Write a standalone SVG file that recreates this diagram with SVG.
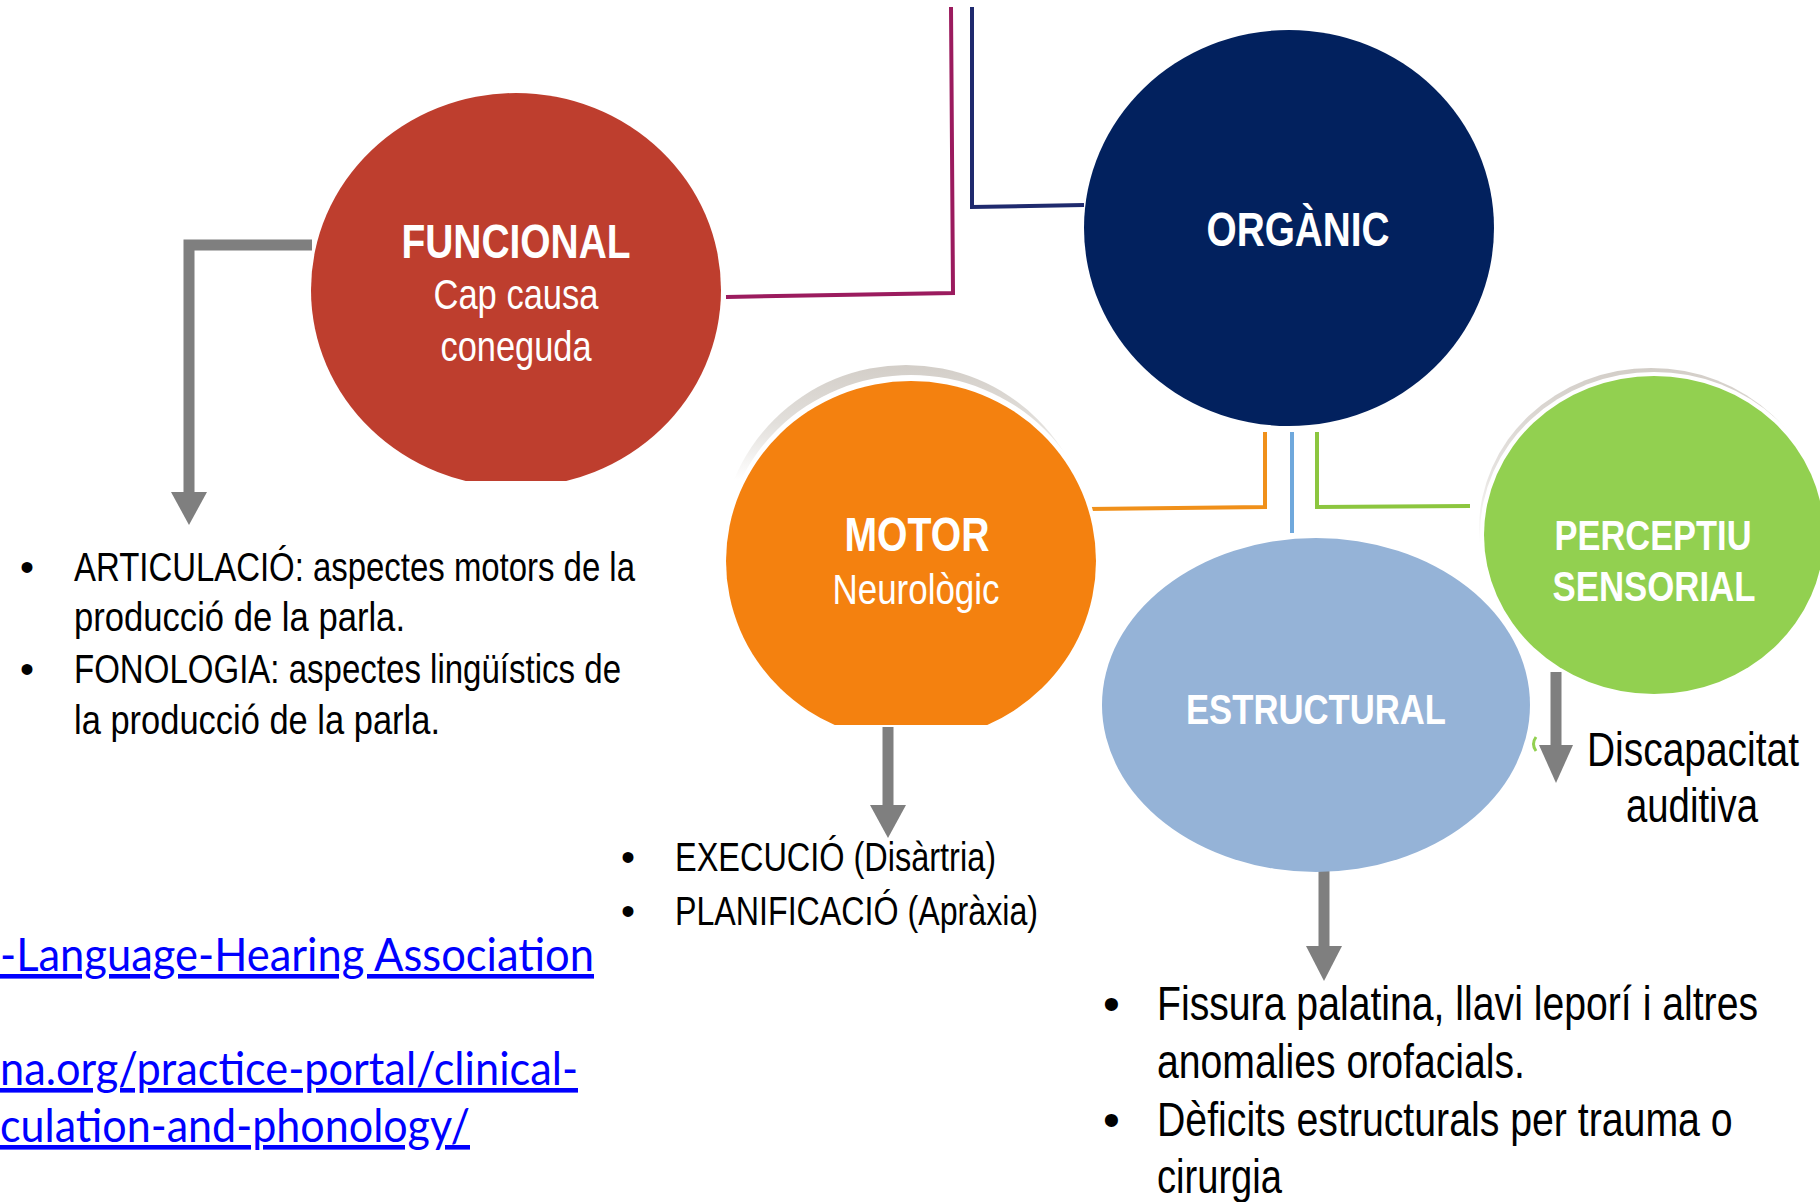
<svg xmlns="http://www.w3.org/2000/svg" width="1820" height="1202" viewBox="0 0 1820 1202">
<defs>
<style>
.t{font-family:"Liberation Sans Narrow","Liberation Sans",Arial,sans-serif;}
.w{fill:#ffffff;}
.b{font-weight:bold;}
.k{fill:#000000;}
.lnk{font-family:Lato,"Open Sans","Liberation Sans",sans-serif;fill:#0000FF;font-size:46px;text-decoration:underline;}
.con{fill:none;stroke-width:4;}
.arr{fill:none;stroke:#7F7F7F;stroke-width:11;}
.head{fill:#7F7F7F;}
</style>
<clipPath id="cf"><rect x="0" y="0" width="1820" height="481"/></clipPath>
<clipPath id="cm"><rect x="0" y="0" width="1820" height="725"/></clipPath>
<linearGradient id="shm" gradientUnits="userSpaceOnUse" x1="0" y1="365" x2="0" y2="480">
<stop offset="0" stop-color="#d3cec8"/>
<stop offset="0.5" stop-color="#e2dfdb"/>
<stop offset="1" stop-color="#ffffff"/>
</linearGradient>
<linearGradient id="shp" gradientUnits="userSpaceOnUse" x1="0" y1="368" x2="0" y2="545">
<stop offset="0" stop-color="#d3cec8"/>
<stop offset="0.6" stop-color="#e6e3e0"/>
<stop offset="1" stop-color="#ffffff"/>
</linearGradient>
</defs>
<rect width="1820" height="1202" fill="#ffffff"/>

<g id="connectors">
<polyline class="con" stroke="#9B1B5E" points="726,297 953,293 951,7"/>
<polyline class="con" stroke="#1F2A6E" points="972,7 972,207 1084,205"/>
<polyline class="con" stroke="#F0901A" points="1265,432 1265,507 1088,509"/>
<polyline class="con" stroke="#6FA8DC" stroke-width="5" points="1292,432 1292,533"/>
<polyline class="con" stroke="#8CC63F" points="1317,432 1317,507 1470,506"/>
<path class="arr" d="M312,245 H189 V493"/>
<polygon class="head" points="171,492 207,492 189,525"/>
<path class="arr" d="M888,727 V806"/>
<polygon class="head" points="870,805 906,805 888,838"/>
<path class="arr" d="M1324,869 V947"/>
<polygon class="head" points="1306,946 1342,946 1324,981"/>
<path class="arr" d="M1556,672 V746"/>
<polygon class="head" points="1539,745 1573,745 1556,783"/>
<path d="M1536,737 q-5,7 0,14" fill="none" stroke="#92D050" stroke-width="3"/>
</g>

<g id="funcional">
<ellipse cx="516" cy="290" rx="205" ry="197" fill="#BE3E2E" clip-path="url(#cf)"/>
<text class="t w b" x="516" y="258" font-size="48" text-anchor="middle" textLength="229" lengthAdjust="spacingAndGlyphs">FUNCIONAL</text>
<text class="t w" x="516" y="309" font-size="42" text-anchor="middle" textLength="165" lengthAdjust="spacingAndGlyphs">Cap causa</text>
<text class="t w" x="516" y="361" font-size="42" text-anchor="middle" textLength="151" lengthAdjust="spacingAndGlyphs">coneguda</text>
</g>

<g id="organic">
<ellipse cx="1289" cy="228" rx="205" ry="198" fill="#02215E"/>
<text class="t w b" x="1298" y="246" font-size="48" text-anchor="middle" textLength="183" lengthAdjust="spacingAndGlyphs">ORGÀNIC</text>
</g>

<g id="motor">
<g clip-path="url(#cm)">
<ellipse cx="906" cy="550" rx="186" ry="185" fill="url(#shm)"/>
<ellipse cx="911" cy="561" rx="189" ry="186" fill="#ffffff"/>
<ellipse cx="911" cy="561" rx="185" ry="180" fill="#F4810F"/>
</g>
<text class="t w b" x="917" y="551" font-size="48" text-anchor="middle" textLength="145" lengthAdjust="spacingAndGlyphs">MOTOR</text>
<text class="t w" x="916" y="604" font-size="42" text-anchor="middle" textLength="167" lengthAdjust="spacingAndGlyphs">Neurològic</text>
</g>

<g id="perceptiu">
<ellipse cx="1651" cy="529" rx="172" ry="161" fill="url(#shp)"/>
<ellipse cx="1654" cy="534" rx="174" ry="162" fill="#ffffff"/>
<ellipse cx="1654" cy="535" rx="170" ry="159" fill="#92D050"/>
<text class="t w b" x="1653" y="550" font-size="42" text-anchor="middle" textLength="197" lengthAdjust="spacingAndGlyphs">PERCEPTIU</text>
<text class="t w b" x="1654" y="601" font-size="42" text-anchor="middle" textLength="203" lengthAdjust="spacingAndGlyphs">SENSORIAL</text>
</g>

<g id="estructural">
<ellipse cx="1316" cy="705" rx="214" ry="167" fill="#95B3D7"/>
<text class="t w b" x="1316" y="724" font-size="42" text-anchor="middle" textLength="260" lengthAdjust="spacingAndGlyphs">ESTRUCTURAL</text>
</g>

<g id="funcional-list">
<text class="t k" x="20" y="581" font-size="40">•</text>
<text class="t k" x="74" y="581" font-size="40" textLength="561" lengthAdjust="spacingAndGlyphs">ARTICULACIÓ: aspectes motors de la</text>
<text class="t k" x="74" y="631" font-size="40" textLength="331" lengthAdjust="spacingAndGlyphs">producció de la parla.</text>
<text class="t k" x="20" y="683" font-size="40">•</text>
<text class="t k" x="74" y="683" font-size="40" textLength="547" lengthAdjust="spacingAndGlyphs">FONOLOGIA: aspectes lingüístics de</text>
<text class="t k" x="74" y="734" font-size="40" textLength="366" lengthAdjust="spacingAndGlyphs">la producció de la parla.</text>
</g>

<g id="motor-list">
<text class="t k" x="621" y="871" font-size="40">•</text>
<text class="t k" x="675" y="871" font-size="40" textLength="321" lengthAdjust="spacingAndGlyphs">EXECUCIÓ (Disàrtria)</text>
<text class="t k" x="621" y="925" font-size="40">•</text>
<text class="t k" x="675" y="925" font-size="40" textLength="363" lengthAdjust="spacingAndGlyphs">PLANIFICACIÓ (Apràxia)</text>
</g>

<g id="perceptiu-label">
<text class="t k" transform="translate(1693,766) scale(0.82,1)" x="0" y="0" font-size="48" text-anchor="middle" textLength="258.5" lengthAdjust="spacingAndGlyphs">Discapacitat</text>
<text class="t k" x="1692" y="822" font-size="48" text-anchor="middle" textLength="132" lengthAdjust="spacingAndGlyphs">auditiva</text>
</g>

<g id="estructural-list">
<text class="t k" x="1103" y="1020" font-size="48">•</text>
<text class="t k" transform="translate(1157,1020) scale(0.82,1)" x="0" y="0" font-size="48" textLength="733" lengthAdjust="spacingAndGlyphs">Fissura palatina, llavi leporí i altres</text>
<text class="t k" x="1157" y="1078" font-size="48" textLength="368" lengthAdjust="spacingAndGlyphs">anomalies orofacials.</text>
<text class="t k" x="1103" y="1136" font-size="48">•</text>
<text class="t k" transform="translate(1157,1136) scale(0.82,1)" x="0" y="0" font-size="48" textLength="702" lengthAdjust="spacingAndGlyphs">Dèficits estructurals per trauma o</text>
<text class="t k" x="1157" y="1193" font-size="48" textLength="125" lengthAdjust="spacingAndGlyphs">cirurgia</text>
</g>

<g id="links">
<text class="lnk" x="0" y="971" textLength="594" lengthAdjust="spacingAndGlyphs">-Language-Hearing Association</text>
<text class="lnk" x="0" y="1085" textLength="578" lengthAdjust="spacingAndGlyphs">na.org/practice-portal/clinical-</text>
<text class="lnk" x="0" y="1142" textLength="470" lengthAdjust="spacingAndGlyphs">culation-and-phonology/</text>
</g>
</svg>
